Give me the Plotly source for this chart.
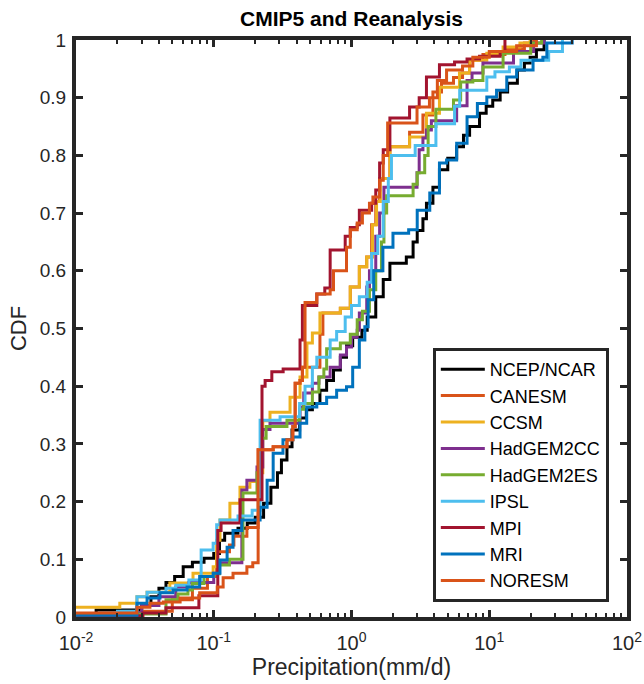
import plotly.graph_objects as go

# ---------------- data ----------------
ncep_x = [0.01, 0.014, 0.03, 0.035, 0.04, 0.045, 0.052, 0.06, 0.07, 0.085, 0.1, 0.11, 0.12, 0.15,
          0.175, 0.2, 0.23, 0.26, 0.29, 0.31, 0.34, 0.37, 0.42, 0.47, 0.52, 0.59, 0.66, 0.74, 0.83,
          0.92, 1.02, 1.19, 1.3, 1.5, 1.7, 1.9, 2.5, 2.8, 3.0, 3.3, 3.5, 3.9, 4.35, 5.0, 5.8, 6.5,
          7.2, 8.5, 9.5, 10.6, 12, 13.6, 16, 18, 19.8, 22, 25]
ncep_y = [0.004, 0.012, 0.02, 0.035, 0.05, 0.06, 0.07, 0.087, 0.095, 0.102, 0.11, 0.133, 0.145, 0.154,
          0.163, 0.173, 0.197, 0.225, 0.25, 0.272, 0.295, 0.324, 0.345, 0.359, 0.37, 0.393, 0.41, 0.428, 0.45,
          0.47, 0.485, 0.497, 0.52, 0.555, 0.585, 0.613, 0.624, 0.65, 0.67, 0.69, 0.717, 0.745, 0.775, 0.795, 0.815, 0.835,
          0.85, 0.873, 0.885, 0.896, 0.91, 0.925, 0.948, 0.96, 0.97, 0.983, 1.0]

canesm_x = [0.01, 0.03, 0.05, 0.07, 0.09, 0.105, 0.13, 0.14, 0.174, 0.21, 0.27, 0.34, 0.375, 0.39,
            0.423, 0.44, 0.59, 0.62, 0.83, 0.98, 1.14, 1.29, 1.4, 1.5, 1.6, 1.9, 2.64, 3.3, 3.9,
            4.5, 5.5, 6.4, 7.2, 9, 13, 18, 21]
canesm_y = [0.003, 0.01, 0.03, 0.05, 0.07, 0.113, 0.125, 0.14, 0.155, 0.29, 0.295, 0.307, 0.33, 0.405,
            0.41, 0.433, 0.49, 0.527, 0.535, 0.572, 0.607, 0.624, 0.68, 0.72, 0.76, 0.815, 0.84, 0.87, 0.91,
            0.925, 0.935, 0.943, 0.965, 0.975, 0.985, 0.995, 1.0]

ccsm_x = [0.01, 0.0208, 0.0277, 0.0328, 0.048, 0.0707, 0.099, 0.105, 0.111, 0.131, 0.155, 0.183, 0.217,
          0.227, 0.256, 0.358, 0.423, 0.475, 0.52, 0.59, 0.83, 0.98, 1.14, 1.29, 1.42, 1.52, 1.62, 1.9,
          2.64, 3.5, 4.35, 6.08, 7.2, 9.6, 12.6, 16.7, 19.8]
ccsm_y = [0.017, 0.024, 0.035, 0.043, 0.059, 0.076, 0.087, 0.133, 0.168, 0.197, 0.225, 0.235, 0.25,
          0.34, 0.355, 0.381, 0.416, 0.475, 0.492, 0.527, 0.535, 0.572, 0.607, 0.624, 0.68, 0.72, 0.76, 0.815,
          0.832, 0.873, 0.918, 0.943, 0.965, 0.977, 0.988, 0.995, 1.0]

hadcc_x = [0.01, 0.022, 0.03, 0.04, 0.053, 0.066, 0.1, 0.11, 0.16, 0.174, 0.206, 0.227, 0.256, 0.423,
           0.45, 0.52, 0.58, 0.7, 0.83, 0.92, 1.0, 1.1, 1.14, 1.29, 1.35, 1.5, 1.6, 1.72, 2.99, 3.1,
           3.3, 3.5, 3.8, 5.8, 6.9, 7.5, 9, 15, 21, 25]
hadcc_y = [0.002, 0.008, 0.02, 0.035, 0.052, 0.06, 0.076, 0.094, 0.22, 0.237, 0.26, 0.325, 0.336, 0.364,
           0.388, 0.405, 0.416, 0.433, 0.454, 0.468, 0.485, 0.497, 0.527, 0.572, 0.6, 0.66, 0.70, 0.745, 0.77, 0.81,
           0.83, 0.844, 0.86, 0.886, 0.93, 0.943, 0.96, 0.98, 0.995, 1.0]

hades_x = [0.01, 0.028, 0.045, 0.055, 0.065, 0.07, 0.085, 0.1, 0.11, 0.13, 0.163, 0.206, 0.22, 0.24,
           0.34, 0.42, 0.45, 0.52, 0.58, 0.63, 0.66, 0.83, 0.98, 1.1, 1.2, 1.35, 1.5, 1.65, 1.72, 1.8,
           2.8, 3.0, 3.4, 3.6, 4.1, 5.5, 6.2, 7.6, 9, 12.6, 20, 24]
hades_y = [0.002, 0.005, 0.03, 0.04, 0.047, 0.058, 0.07, 0.075, 0.09, 0.1, 0.215, 0.25, 0.31, 0.33,
           0.341, 0.36, 0.37, 0.39, 0.416, 0.43, 0.465, 0.475, 0.49, 0.515, 0.53, 0.567, 0.6, 0.65, 0.70, 0.73,
           0.75, 0.77, 0.8, 0.85, 0.88, 0.896, 0.927, 0.93, 0.953, 0.977, 0.995, 1.0]

ipsl_x = [0.01, 0.02, 0.0277, 0.0328, 0.045, 0.053, 0.066, 0.081, 0.099, 0.105, 0.111, 0.15, 0.19,
          0.217, 0.303, 0.42, 0.46, 0.52, 0.56, 0.7, 0.78, 0.9, 1.0, 1.14, 1.3, 1.4, 1.55, 1.7, 1.85,
          1.95, 2.9, 4.1, 5.6, 6.1, 9.6, 11, 14, 17, 27, 34]
ipsl_y = [0.003, 0.01, 0.035, 0.043, 0.05, 0.055, 0.064, 0.116, 0.128, 0.16, 0.168, 0.175, 0.185,
          0.341, 0.347, 0.37, 0.4, 0.433, 0.45, 0.48, 0.495, 0.52, 0.54, 0.555, 0.58, 0.63, 0.66, 0.72, 0.76,
          0.8, 0.817, 0.855, 0.885, 0.913, 0.936, 0.945, 0.953, 0.965, 0.98, 1.0]

mpi_x = [0.01, 0.0306, 0.045, 0.078, 0.107, 0.113, 0.155, 0.224, 0.236, 0.264, 0.319, 0.423, 0.44,
         0.56, 0.64, 0.7, 0.9, 0.98, 1.1, 1.14, 1.4, 1.5, 1.6, 1.7, 1.9, 2.64, 3.1, 3.5, 4.35, 5.6,
         6.9, 8.5, 12, 13]
mpi_y = [0.002, 0.007, 0.016, 0.037, 0.15, 0.163, 0.203, 0.40, 0.41, 0.425, 0.43, 0.48, 0.54,
         0.56, 0.57, 0.636, 0.66, 0.675, 0.68, 0.705, 0.717, 0.74, 0.787, 0.81, 0.865, 0.884, 0.9, 0.936, 0.957, 0.962,
         0.967, 0.972, 0.98, 1.0]

mri_x = [0.01, 0.0277, 0.0328, 0.0407, 0.0506, 0.064, 0.079, 0.099, 0.111, 0.125, 0.138, 0.16, 0.217,
         0.244, 0.27, 0.318, 0.375, 0.423, 0.473, 0.56, 0.66, 0.78, 0.92, 1.02, 1.14, 1.25, 1.32, 1.45,
         1.69, 2.0, 2.6, 3.0, 3.7, 4.35, 4.9, 5.8, 6.9, 8.2, 9.6, 11.3, 13.4, 15.8, 20.8, 24.5, 26.2, 40]
mri_y = [0.003, 0.024, 0.033, 0.042, 0.047, 0.052, 0.07, 0.076, 0.099, 0.121, 0.15, 0.168, 0.19,
         0.237, 0.284, 0.307, 0.312, 0.336, 0.364, 0.37, 0.381, 0.393, 0.399, 0.433, 0.48, 0.503, 0.55, 0.6,
         0.641, 0.665, 0.671, 0.705, 0.735, 0.787, 0.792, 0.821, 0.867, 0.89, 0.901, 0.913, 0.936, 0.948, 0.965, 0.97, 0.995, 1.0]

noresm_x = [0.01, 0.0277, 0.0344, 0.043, 0.057, 0.079, 0.106, 0.117, 0.138, 0.174, 0.192, 0.21, 0.27,
            0.34, 0.375, 0.39, 0.423, 0.44, 0.46, 0.56, 0.7, 0.74, 0.92, 0.98, 1.1, 1.2, 1.35, 1.43, 1.6,
            1.7, 1.83, 2.99, 3.68, 4.2, 4.9, 6.4, 7.6, 10, 15.8, 22]
noresm_y = [0.007, 0.017, 0.024, 0.026, 0.033, 0.042, 0.052, 0.068, 0.076, 0.087, 0.094, 0.29, 0.295,
            0.307, 0.33, 0.405, 0.41, 0.433, 0.545, 0.56, 0.567, 0.6, 0.641, 0.671, 0.683, 0.70, 0.717, 0.728, 0.757,
            0.80, 0.856, 0.884, 0.9, 0.93, 0.948, 0.955, 0.97, 0.98, 0.99, 1.0]

series_names = ["NCEP/NCAR", "CANESM", "CCSM", "HadGEM2CC", "HadGEM2ES", "IPSL", "MPI", "MRI", "NORESM"]
series_x = [ncep_x, canesm_x, ccsm_x, hadcc_x, hades_x, ipsl_x, mpi_x, mri_x, noresm_x]
series_y = [ncep_y, canesm_y, ccsm_y, hadcc_y, hades_y, ipsl_y, mpi_y, mri_y, noresm_y]
series_colors = ["#000000", "#D95319", "#EDB120", "#7E2F8E", "#77AC30", "#4DBEEE", "#A2142F", "#0072BD", "#D95319"]

x_tickvals = [0.01, 0.1, 1, 10, 100]
x_ticktext = ["10<sup>-2</sup>", "10<sup>-1</sup>", "10<sup>0</sup>", "10<sup>1</sup>", "10<sup>2</sup>"]

# ---------------- figure ----------------
FONT = "Liberation Sans, Arial, Helvetica, sans-serif"
AX = "#262626"

fig = go.Figure()
for name, xs, ys, col in zip(series_names, series_x, series_y, series_colors):
    fig.add_trace(go.Scatter(x=xs, y=ys, mode="lines", name=name,
                             line=dict(color=col, width=3, shape="hv")))

minor_vals = [m * 10 ** e for e in range(-2, 2) for m in range(2, 10)]

fig.update_layout(
    width=644, height=684,
    paper_bgcolor="white", plot_bgcolor="white",
    margin=dict(l=76, r=17, t=40, b=67, autoexpand=False),
    font=dict(family=FONT, size=19, color=AX),
    title=dict(text="<b>CMIP5 and Reanalysis</b>", x=0.5, xref="paper", xanchor="center",
               y=1 - 19 / 684, yref="container", yanchor="middle",
               font=dict(family=FONT, size=21, color="#000000")),
    showlegend=True,
    legend=dict(x=0.967, y=0.026, xanchor="right", yanchor="bottom",
                bgcolor="white", bordercolor="#262626", borderwidth=3,
                font=dict(family=FONT, size=18, color="#000000"),
                tracegroupgap=0, itemwidth=44),
)

fig.update_xaxes(
    type="log", range=[-2, 2], automargin=False,
    tickmode="array", tickvals=x_tickvals, ticktext=x_ticktext,
    ticks="inside", ticklen=7, tickwidth=2.5, tickcolor=AX,
    showline=True, linewidth=4, linecolor=AX, mirror="allticks",
    showgrid=False, zeroline=False, ticklabelstandoff=5,
    tickfont=dict(family=FONT, size=20, color=AX),
    minor=dict(tickmode="array", tickvals=minor_vals, ticks="inside", ticklen=4,
               tickwidth=2, tickcolor=AX, showgrid=False),
    title=dict(text="Precipitation(mm/d)", font=dict(family=FONT, size=23, color=AX), standoff=6),
)
fig.update_yaxes(
    range=[0, 1], tick0=0, dtick=0.1, automargin=False,
    ticks="inside", ticklen=7, tickwidth=2.5, tickcolor=AX,
    showline=True, linewidth=4, linecolor=AX, mirror="allticks",
    showgrid=False, zeroline=False, ticklabelstandoff=2,
    tickfont=dict(family=FONT, size=19, color=AX),
    title=dict(text="CDF", font=dict(family=FONT, size=22, color=AX), standoff=8),
)

fig.write_html("out.html", config={"displayModeBar": False},
               post_script="document.body.style.margin='0';document.body.style.padding='0';")
